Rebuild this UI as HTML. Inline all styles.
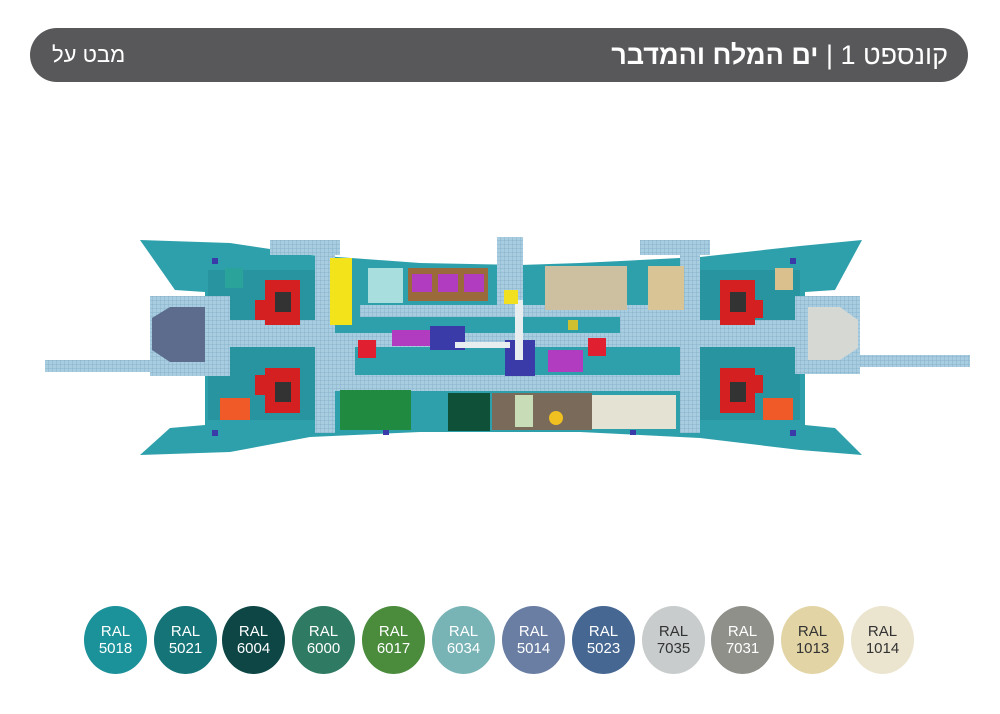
<!DOCTYPE html>
<html><head><meta charset="utf-8"><style>
html,body{margin:0;padding:0;background:#fff;width:1000px;height:714px;overflow:hidden}
.bar{position:absolute;left:30px;top:28px;width:938px;height:54px;border-radius:27px;background:#58585a}
.t{position:absolute;top:0;line-height:54px;color:#fff;font-family:"Liberation Sans","Noto Sans CJK SC",sans-serif;white-space:nowrap;direction:rtl}
.sw{position:absolute;width:63px;height:68px;border-radius:50%;top:606px;color:#fff;font-family:"Liberation Sans",sans-serif;font-size:15px;text-align:center;line-height:17px;box-sizing:border-box;padding-top:17px;transform:scaleX(1)}
</style></head><body>
<div class="bar">
<div class="t" style="right:20px;font-size:27px"><span style="font-weight:300">קונספט 1</span> <span style="font-weight:300">|</span> <b>ים המלח והמדבר</b></div>
<div class="t" style="left:22px;font-size:22px;font-weight:300">מבט על</div>
</div>
<svg width="1000" height="714" style="position:absolute;left:0;top:0">
<defs>
<pattern id="g" width="4" height="4" patternUnits="userSpaceOnUse"><rect width="4" height="4" fill="#a8cde0"/><path d="M0 0H4M0 0V4" stroke="#7fa9c4" stroke-width="0.7"/></pattern>
</defs>
<path d="M140,240 L230,243 L310,255 L420,263 L520,265 L580,263 L700,257 L800,246 L862,240 L835,290 L805,292 L805,425 L835,428 L862,455 L800,450 L700,438 L580,432 L420,432 L310,437 L230,452 L140,455 L170,428 L205,425 L205,292 L175,290 Z" fill="#2ea0ab"/>
<rect x="208" y="270" width="110" height="150" fill="#2794a0"/>
<rect x="700" y="270" width="100" height="150" fill="#2794a0"/>
<rect x="45" y="360" width="185" height="12" fill="url(#g)"/>
<rect x="150" y="296" width="80" height="80" fill="url(#g)"/>
<path d="M152,318 L170,307 L205,307 L205,362 L170,362 L152,350 Z" fill="#5d6b8c"/>
<rect x="855" y="355" width="115" height="12" fill="url(#g)"/>
<rect x="795" y="296" width="65" height="78" fill="url(#g)"/>
<path d="M808,307 L840,307 L858,320 L858,348 L840,360 L808,360 Z" fill="#d6d8d4"/>
<rect x="205" y="333" width="600" height="14" fill="url(#g)"/>
<rect x="315" y="255" width="20" height="178" fill="url(#g)"/>
<rect x="680" y="255" width="20" height="178" fill="url(#g)"/>
<rect x="335" y="375" width="345" height="16" fill="url(#g)"/>
<rect x="360" y="305" width="320" height="12" fill="url(#g)"/>
<rect x="497" y="237" width="26" height="70" fill="url(#g)"/>
<rect x="270" y="240" width="70" height="15" fill="url(#g)"/>
<rect x="640" y="240" width="70" height="15" fill="url(#g)"/>
<rect x="220" y="320" width="100" height="25" fill="url(#g)"/>
<rect x="700" y="320" width="100" height="25" fill="url(#g)"/>
<rect x="335" y="347" width="20" height="28" fill="url(#g)"/>
<rect x="620" y="317" width="60" height="20" fill="url(#g)"/>
<rect x="330" y="258" width="22" height="67" fill="#f2e31a"/>
<rect x="368" y="268" width="35" height="35" fill="#a8dedd"/>
<rect x="408" y="268" width="80" height="33" fill="#9a6a3a"/>
<rect x="412" y="274" width="20" height="18" fill="#b23cc0"/><rect x="438" y="274" width="20" height="18" fill="#b23cc0"/><rect x="464" y="274" width="20" height="18" fill="#b23cc0"/>
<rect x="545" y="266" width="82" height="44" fill="#cdc0a0"/>
<rect x="648" y="266" width="36" height="44" fill="#d8c494"/>
<rect x="340" y="390" width="71" height="40" fill="#1f8a40"/>
<rect x="448" y="393" width="42" height="38" fill="#0f5038"/>
<rect x="492" y="393" width="100" height="37" fill="#7a6a5a"/>
<rect x="515" y="395" width="18" height="32" fill="#c9dcb8"/>
<circle cx="556" cy="418" r="7" fill="#f0c020"/>
<rect x="592" y="395" width="84" height="34" fill="#e4e2d2"/>
<rect x="392" y="330" width="40" height="16" fill="#b23cc0"/>
<rect x="548" y="350" width="35" height="22" fill="#b23cc0"/>
<rect x="430" y="326" width="35" height="24" fill="#3a3aa8"/>
<rect x="505" y="340" width="30" height="36" fill="#3a3aa8"/>
<rect x="455" y="342" width="55" height="6" fill="#e8eef0"/>
<rect x="515" y="300" width="8" height="60" fill="#e8eef0"/>
<rect x="504" y="290" width="14" height="14" fill="#f0e020"/>
<rect x="588" y="338" width="18" height="18" fill="#e02030"/>
<rect x="358" y="340" width="18" height="18" fill="#e02030"/>
<rect x="568" y="320" width="10" height="10" fill="#d0c030"/>
<g fill="#d42020">
<rect x="265" y="280" width="35" height="45"/><rect x="255" y="300" width="20" height="20"/>
<rect x="265" y="368" width="35" height="45"/><rect x="255" y="375" width="20" height="20"/>
<rect x="720" y="280" width="35" height="45"/><rect x="745" y="300" width="18" height="18"/>
<rect x="720" y="368" width="35" height="45"/><rect x="745" y="375" width="18" height="18"/>
</g>
<rect x="275" y="292" width="16" height="20" fill="#333"/><rect x="275" y="382" width="16" height="20" fill="#333"/>
<rect x="730" y="292" width="16" height="20" fill="#333"/><rect x="730" y="382" width="16" height="20" fill="#333"/>
<rect x="220" y="398" width="30" height="22" fill="#f05a28"/>
<rect x="763" y="398" width="30" height="22" fill="#f05a28"/>
<rect x="225" y="268" width="18" height="20" fill="#2aa39a"/>
<rect x="775" y="268" width="18" height="22" fill="#d9c08c"/>
<g fill="#3a3aa8"><rect x="212" y="258" width="6" height="6"/><rect x="212" y="430" width="6" height="6"/><rect x="790" y="258" width="6" height="6"/><rect x="790" y="430" width="6" height="6"/><rect x="383" y="430" width="6" height="5"/><rect x="630" y="430" width="6" height="5"/></g>
</svg>
<div class="sw" style="left:84px;background:#1b9199">RAL<br>5018</div>
<div class="sw" style="left:154px;background:#147478">RAL<br>5021</div>
<div class="sw" style="left:222px;background:#0e4545">RAL<br>6004</div>
<div class="sw" style="left:292px;background:#2f7a62">RAL<br>6000</div>
<div class="sw" style="left:362px;background:#4a8b3c">RAL<br>6017</div>
<div class="sw" style="left:432px;background:#78b3b6">RAL<br>6034</div>
<div class="sw" style="left:502px;background:#6a7ea3">RAL<br>5014</div>
<div class="sw" style="left:572px;background:#456792">RAL<br>5023</div>
<div class="sw" style="left:642px;background:#c8cccc;color:#333">RAL<br>7035</div>
<div class="sw" style="left:711px;background:#8f908a">RAL<br>7031</div>
<div class="sw" style="left:781px;background:#e2d4a4;color:#333">RAL<br>1013</div>
<div class="sw" style="left:851px;background:#ebe4cf;color:#333">RAL<br>1014</div>
</body></html>
